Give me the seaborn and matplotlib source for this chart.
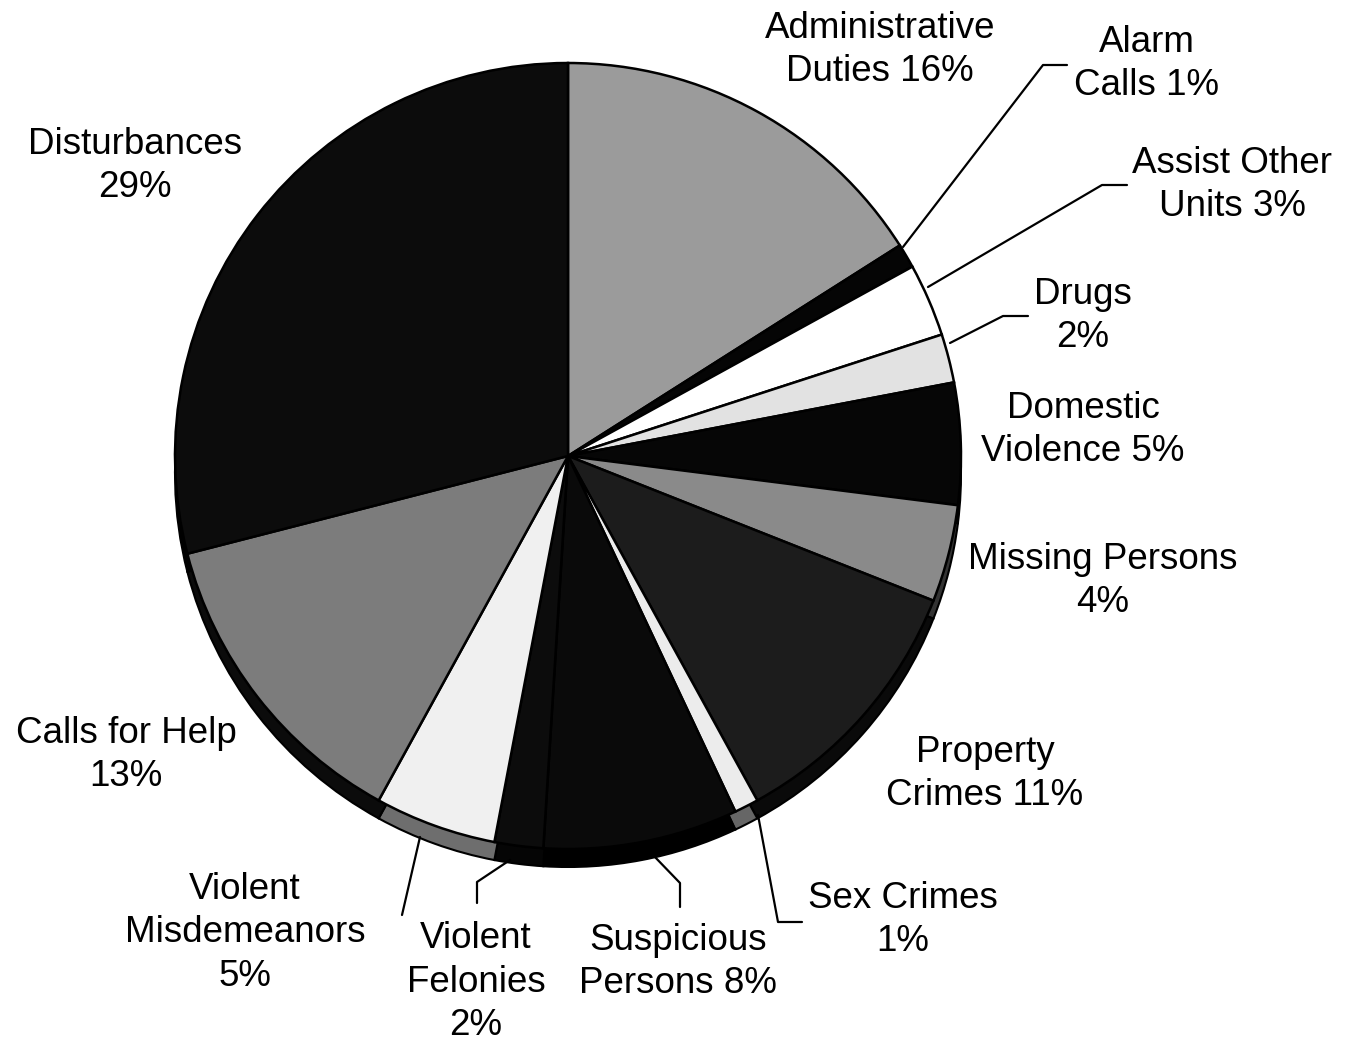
import matplotlib
matplotlib.use("Agg")
import matplotlib.pyplot as plt
import seaborn as sns

# Calls by category (percent), clockwise from 12 o'clock
categories = ["Administrative Duties", "Alarm Calls", "Assist Other Units", "Drugs",
              "Domestic Violence", "Missing Persons", "Property Crimes", "Sex Crimes",
              "Suspicious Persons", "Violent Felonies", "Violent Misdemeanors",
              "Calls for Help", "Disturbances"]
shares = [16, 1, 3, 2, 5, 4, 11, 1, 8, 2, 5, 13, 29]
labels = ["Administrative\nDuties 16%", "Alarm\nCalls 1%", "Assist Other\nUnits 3%", "Drugs\n2%",
          "Domestic\nViolence 5%", "Missing Persons\n4%", "Property\nCrimes 11%", "Sex Crimes\n1%",
          "Suspicious\nPersons 8%", "Violent\nFelonies\n2%", "Violent\nMisdemeanors\n5%",
          "Calls for Help\n13%", "Disturbances\n29%"]
fills = ["#9b9b9b", "#050505", "#ffffff", "#e2e2e2", "#060606", "#8a8a8a", "#1c1c1c",
         "#ececec", "#0a0a0a", "#0c0c0c", "#f0f0f0", "#7c7c7c", "#0c0c0c"]
rims = ["#555555", "#000000", "#222222", "#444444", "#000000", "#333333", "#0a0a0a",
        "#666666", "#000000", "#050505", "#6e6e6e", "#0b0b0b", "#000000"]

sns.set_theme(style="white")
plt.rcParams["font.family"] = ["Liberation Sans", "DejaVu Sans"]

W, H = 1348, 1044
fig = plt.figure(figsize=(W / 100, H / 100), dpi=100)
ax = fig.add_axes([0, 0, 1, 1])

cx, cy, r = 568, H - 456, 393
depth = 18

# side of the slightly tilted pie
ax.pie(shares, colors=rims, startangle=90, counterclock=False, center=(cx, cy - depth),
       radius=r, wedgeprops=dict(edgecolor="black", linewidth=1.5))
ax.pie(shares, colors=fills, startangle=90, counterclock=False, center=(cx, cy),
       radius=r, wedgeprops=dict(edgecolor="black", linewidth=1.8))

ax.set_xlim(0, W)
ax.set_ylim(0, H)
ax.set_aspect("auto")
ax.axis("off")

# label centres in image pixels
label_pos = [(880, 50), (1147, 64), (1232, 185), (1083, 316), (1083, 430), (1103, 581),
             (985, 774), (903, 920), (678, 962), (476, 982), (245, 933), (126, 755), (135, 166)]
for text, (x, y) in zip(labels, label_pos):
    ax.text(x, H - y, text, ha="center", va="center", fontsize=26.5,
            linespacing=1.32, color="black")

# leader lines (image pixels)
leaders = [
    [(903, 247), (1043, 65), (1067, 65)],
    [(928, 287), (1102, 185), (1127, 185)],
    [(950, 343), (1003, 316), (1028, 316)],
    [(758, 815), (778, 922), (802, 922)],
    [(653, 855), (680, 883), (680, 907)],
    [(510, 860), (477, 882), (477, 903)],
    [(420, 837), (402, 915)],
]
for pts in leaders:
    xs = [p[0] for p in pts]
    ys = [H - p[1] for p in pts]
    ax.plot(xs, ys, color="black", linewidth=1.6)

fig.savefig("out.png", dpi=100, facecolor="white")
